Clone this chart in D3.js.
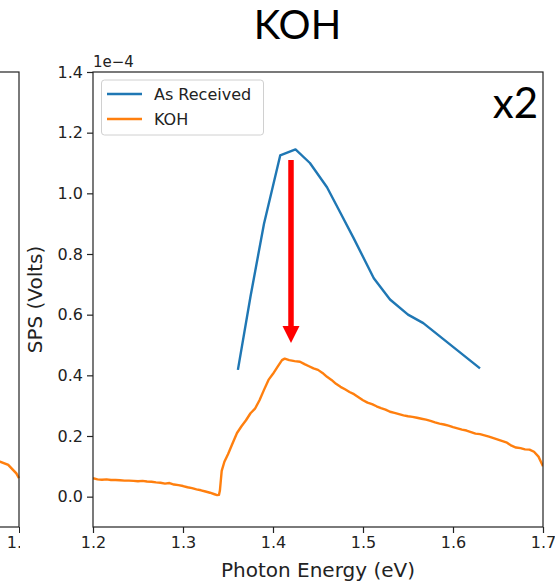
<!DOCTYPE html>
<html>
<head>
<meta charset="utf-8">
<script src="https://cdn.jsdelivr.net/npm/d3@7"></script>
<style>
  html, body { margin: 0; padding: 0; background: #fff; }
  svg { display: block; }
  text { font-family: "DejaVu Sans", sans-serif; fill: #222; }
</style>
</head>
<body>
<svg id="chart" width="555" height="584"></svg>
<script>
// SPS values are in units of 1e-4 V (shown by the axis offset label)
const receivedEnergy = [1.361, 1.375, 1.390, 1.408, 1.425, 1.441, 1.460, 1.475, 1.490, 1.512, 1.530, 1.550, 1.567, 1.630];
const receivedSignal = [0.418, 0.660, 0.900, 1.125, 1.145, 1.100, 1.020, 0.935, 0.850, 0.720, 0.650, 0.600, 0.572, 0.423];

const kohEnergy = [
  1.200, 1.205, 1.210, 1.215, 1.220, 1.225, 1.230, 1.235, 1.240, 1.245,
  1.250, 1.255, 1.260, 1.265, 1.270, 1.275, 1.280, 1.285, 1.290, 1.295,
  1.300, 1.305, 1.310, 1.315, 1.320, 1.325, 1.330, 1.335, 1.338, 1.340,
  1.341, 1.343, 1.346, 1.350, 1.355, 1.360, 1.365, 1.370, 1.375, 1.380,
  1.385, 1.390, 1.395, 1.400, 1.405, 1.410, 1.413, 1.418, 1.424, 1.430,
  1.435, 1.440, 1.445, 1.450, 1.455, 1.460, 1.465, 1.470, 1.475, 1.480,
  1.485, 1.490, 1.495, 1.500, 1.505, 1.510, 1.515, 1.520, 1.525, 1.530,
  1.535, 1.540, 1.545, 1.550, 1.555, 1.560, 1.565, 1.570, 1.575, 1.580,
  1.585, 1.590, 1.595, 1.600, 1.605, 1.610, 1.615, 1.620, 1.625, 1.630,
  1.635, 1.640, 1.645, 1.650, 1.655, 1.660, 1.665, 1.670, 1.675, 1.680,
  1.685, 1.690, 1.695, 1.700
];
const kohSignal = [
  0.061, 0.057, 0.056, 0.057, 0.055, 0.055, 0.054, 0.053, 0.053, 0.052,
  0.051, 0.052, 0.050, 0.049, 0.047, 0.046, 0.043, 0.045, 0.040, 0.038,
  0.035, 0.031, 0.028, 0.024, 0.021, 0.017, 0.013, 0.008, 0.005, 0.006,
  0.020, 0.085, 0.115, 0.140, 0.175, 0.210, 0.232, 0.252, 0.275, 0.290,
  0.318, 0.352, 0.385, 0.405, 0.428, 0.450, 0.455, 0.450, 0.447, 0.445,
  0.437, 0.430, 0.423, 0.418, 0.408, 0.395, 0.385, 0.372, 0.362, 0.354,
  0.345, 0.338, 0.328, 0.318, 0.310, 0.305, 0.298, 0.292, 0.287, 0.280,
  0.276, 0.272, 0.268, 0.265, 0.263, 0.260, 0.257, 0.254, 0.250, 0.245,
  0.241, 0.238, 0.234, 0.229, 0.225, 0.221, 0.218, 0.213, 0.208, 0.206,
  0.202, 0.198, 0.193, 0.188, 0.183, 0.178, 0.168, 0.162, 0.160, 0.156,
  0.155, 0.148, 0.132, 0.100
];

// tail of the neighbouring panel on the left
const neighbourEnergy = [1.670, 1.679, 1.688, 1.697, 1.700];
const neighbourSignal = [0.117, 0.115, 0.105, 0.077, 0.061];

const xTicks = [1.2, 1.3, 1.4, 1.5, 1.6, 1.7];
const yTicks = [0.0, 0.2, 0.4, 0.6, 0.8, 1.0, 1.2, 1.4];
const seriesNames = ["As Received", "KOH"];
const seriesColors = ["#1f77b4", "#ff7f0e"];

// arrow marking the drop in peak signal
const arrowEnergy = 1.42;
const arrowFrom = 1.11;
const arrowTo = 0.507;

const svg = d3.select("#chart");
const W = 555, H = 584;
const plot = { left: 93, right: 543, top: 72, bottom: 527 };

const x = d3.scaleLinear().domain([1.2, 1.7]).range([plot.left, plot.right]);
const y = d3.scaleLinear().domain([-0.1, 1.4]).range([plot.bottom, plot.top]);

// neighbouring panel uses the same scales, shifted so its right edge sits at x=19
const xN = d3.scaleLinear().domain([1.2, 1.7]).range([19 - 450, 19]);

const defs = svg.append("defs");
defs.append("clipPath").attr("id", "clipMain")
  .append("rect").attr("x", plot.left).attr("y", plot.top)
  .attr("width", plot.right - plot.left).attr("height", plot.bottom - plot.top);
defs.append("clipPath").attr("id", "clipLeft")
  .append("rect").attr("x", 0).attr("y", 0).attr("width", 20).attr("height", H);

// ---- neighbouring panel (only its right edge is in view)
const gN = svg.append("g").attr("clip-path", "url(#clipLeft)");
const lineN = d3.line().x((d, i) => xN(neighbourEnergy[i])).y(d => y(d));
gN.append("path").datum(neighbourSignal)
  .attr("d", lineN).attr("fill", "none")
  .attr("stroke", seriesColors[1]).attr("stroke-width", 2.4);
const axN = gN.append("g").attr("transform", `translate(0,${plot.bottom})`)
  .call(d3.axisBottom(xN).tickValues([1.7]).tickFormat(d3.format(".1f")).tickSizeOuter(0).tickSize(6).tickPadding(4));
axN.select(".domain").remove();
axN.selectAll("text").attr("font-size", 16).attr("font-family", "DejaVu Sans").attr("fill", "#222");
axN.selectAll("line").attr("stroke", "#222");
gN.append("rect").attr("x", -431).attr("y", plot.top).attr("width", 450)
  .attr("height", plot.bottom - plot.top).attr("fill", "none").attr("stroke", "#222").attr("stroke-width", 1.2);

// ---- main panel
const gx = svg.append("g").attr("transform", `translate(0,${plot.bottom})`)
  .call(d3.axisBottom(x).tickValues(xTicks).tickFormat(d3.format(".1f")).tickSize(6).tickPadding(4));
const gy = svg.append("g").attr("transform", `translate(${plot.left},0)`)
  .call(d3.axisLeft(y).tickValues(yTicks).tickFormat(d3.format(".1f")).tickSize(6).tickPadding(4));
[gx, gy].forEach(g => {
  g.select(".domain").remove();
  g.selectAll("line").attr("stroke", "#222").attr("stroke-width", 1.2);
  g.selectAll("text").attr("font-size", 16).attr("font-family", "DejaVu Sans").attr("fill", "#222");
});

const gLines = svg.append("g").attr("clip-path", "url(#clipMain)");
const line = (xs) => d3.line().x((d, i) => x(xs[i])).y(d => y(d));
gLines.append("path").datum(receivedSignal)
  .attr("d", line(receivedEnergy)).attr("fill", "none")
  .attr("stroke", seriesColors[0]).attr("stroke-width", 2.4).attr("stroke-linejoin", "round");
gLines.append("path").datum(kohSignal)
  .attr("d", line(kohEnergy)).attr("fill", "none")
  .attr("stroke", seriesColors[1]).attr("stroke-width", 2.4).attr("stroke-linejoin", "round");

svg.append("rect").attr("x", plot.left).attr("y", plot.top)
  .attr("width", plot.right - plot.left).attr("height", plot.bottom - plot.top)
  .attr("fill", "none").attr("stroke", "#222").attr("stroke-width", 1.2);

// offset text for the y axis
svg.append("text").attr("x", plot.left).attr("y", 67)
  .attr("font-size", 15).text("1e\u22124");

// axis labels
svg.append("text").attr("x", (plot.left + plot.right) / 2).attr("y", 577)
  .attr("text-anchor", "middle").attr("font-size", 20).text("Photon Energy (eV)");
svg.append("text")
  .attr("transform", `translate(42,${(plot.top + plot.bottom) / 2}) rotate(-90)`)
  .attr("text-anchor", "middle").attr("font-size", 20).text("SPS (Volts)");

// legend
const lg = svg.append("g");
lg.append("rect").attr("x", 101.5).attr("y", 80).attr("width", 162).attr("height", 55)
  .attr("rx", 3).attr("fill", "#fff").attr("fill-opacity", 0.8)
  .attr("stroke", "#d0d0d0").attr("stroke-width", 1);
seriesNames.forEach((name, i) => {
  const yy = 94 + i * 25;
  lg.append("line").attr("x1", 107).attr("x2", 142).attr("y1", yy).attr("y2", yy)
    .attr("stroke", seriesColors[i]).attr("stroke-width", 2.4);
  lg.append("text").attr("x", 154).attr("y", yy + 6).attr("font-size", 16).text(name);
});

// annotation arrow
const ax = x(arrowEnergy);
svg.append("line").attr("x1", ax).attr("x2", ax)
  .attr("y1", y(arrowFrom)).attr("y2", y(arrowTo) - 15)
  .attr("stroke", "#ff0000").attr("stroke-width", 5.5);
svg.append("path")
  .attr("d", `M${ax - 8.5},${y(arrowTo) - 17} L${ax + 8.5},${y(arrowTo) - 17} L${ax},${y(arrowTo)} Z`)
  .attr("fill", "#ff0000");

// titles
svg.append("text").attr("x", 297.5).attr("y", 39).attr("text-anchor", "middle")
  .style("font-family", "Lato, 'Open Sans', sans-serif").style("fill", "#000")
  .attr("font-size", 40).text("KOH");
svg.append("text").attr("x", 538).attr("y", 118).attr("text-anchor", "end")
  .style("font-family", "Lato, 'Open Sans', sans-serif").style("fill", "#000")
  .attr("font-size", 42).text("x2");
</script>
</body>
</html>
